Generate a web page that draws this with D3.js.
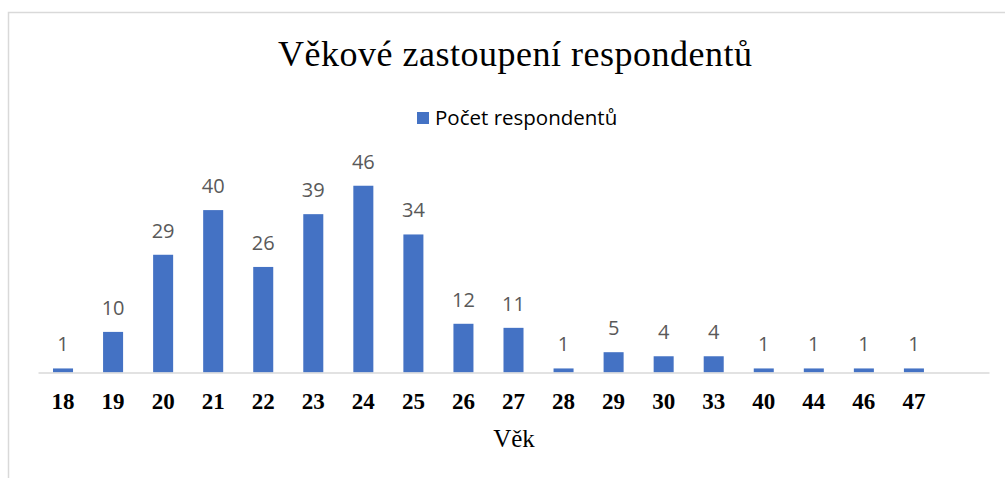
<!DOCTYPE html>
<html>
<head>
<meta charset="utf-8">
<script src="https://cdn.jsdelivr.net/npm/d3@7"></script>
<style>
  body { margin: 0; background: #fff; }
</style>
</head>
<body>
<div id="chart"></div>
<script>
var ages = ["18", "19", "20", "21", "22", "23", "24", "25", "26", "27", "28", "29", "30", "33", "40", "44", "46", "47"];
var counts = [1, 10, 29, 40, 26, 39, 46, 34, 12, 11, 1, 5, 4, 4, 1, 1, 1, 1];
var seriesName = "Počet respondentů";
var title = "Věkové zastoupení respondentů";
var axisTitle = "Věk";

var width = 1005, height = 478;
var svg = d3.select("#chart").append("svg")
    .attr("width", width)
    .attr("height", height);

// chart border (runs off the right/bottom edge)
svg.append("rect")
    .attr("x", 8.5).attr("y", 12.5)
    .attr("width", 1100).attr("height", 600)
    .attr("fill", "#fff")
    .attr("stroke", "#d9d9d9")
    .attr("stroke-width", 1.5);

var data = ages.map(function (a, i) { return {age: a, n: counts[i]}; });

// one extra empty slot at the end like the source sheet
var x = d3.scaleBand()
    .domain(ages.concat([" "]))
    .range([38, 989])
    .paddingInner(0.6)
    .paddingOuter(0.3);

var y = d3.scaleLinear().domain([0, 50]).range([372.5, 169.5]);

svg.append("text")
    .text(title)
    .attr("x", 515).attr("y", 66)
    .attr("text-anchor", "middle")
    .attr("font-family", "Liberation Serif, Times New Roman, serif")
    .attr("font-size", 36)
    .attr("textLength", 474)
    .attr("fill", "#000");

// legend
var lg = svg.append("g");
lg.append("rect")
    .attr("x", 417).attr("y", 112)
    .attr("width", 12).attr("height", 12)
    .attr("fill", "#4472c4");
lg.append("text")
    .text(seriesName)
    .attr("x", 435).attr("y", 125)
    .attr("font-family", "Open Sans, sans-serif")
    .attr("font-size", 20.5)
    .attr("fill", "#000");

svg.append("g")
    .selectAll("rect")
    .data(data)
    .enter()
    .append("rect")
    .attr("x", function (d) { return x(d.age); })
    .attr("y", function (d) { return y(d.n); })
    .attr("width", x.bandwidth())
    .attr("height", function (d) { return y(0) - y(d.n); })
    .attr("fill", "#4472c4");

svg.append("g")
    .selectAll("text")
    .data(data)
    .enter()
    .append("text")
    .text(function (d) { return d.n; })
    .attr("x", function (d) { return x(d.age) + x.bandwidth() / 2; })
    .attr("y", function (d) { return y(d.n) - 17; })
    .attr("text-anchor", "middle")
    .attr("font-family", "Open Sans, sans-serif")
    .attr("font-size", 20)
    .attr("fill", "#595959");

var xAxis = svg.append("g")
    .attr("transform", "translate(0," + y(0) + ")")
    .call(d3.axisBottom(x).tickSize(0).tickPadding(0));
xAxis.select(".domain")
    .attr("stroke", "#d9d9d9")
    .attr("stroke-width", 1.5);
xAxis.selectAll("text")
    .attr("dy", null)
    .attr("y", 36.5)
    .attr("font-family", "Liberation Serif, Times New Roman, serif")
    .attr("font-weight", "bold")
    .attr("font-size", 23)
    .attr("fill", "#000");

svg.append("text")
    .text(axisTitle)
    .attr("x", 514).attr("y", 447)
    .attr("text-anchor", "middle")
    .attr("font-family", "Liberation Serif, Times New Roman, serif")
    .attr("font-size", 25)
    .attr("fill", "#000");
</script>
</body>
</html>
